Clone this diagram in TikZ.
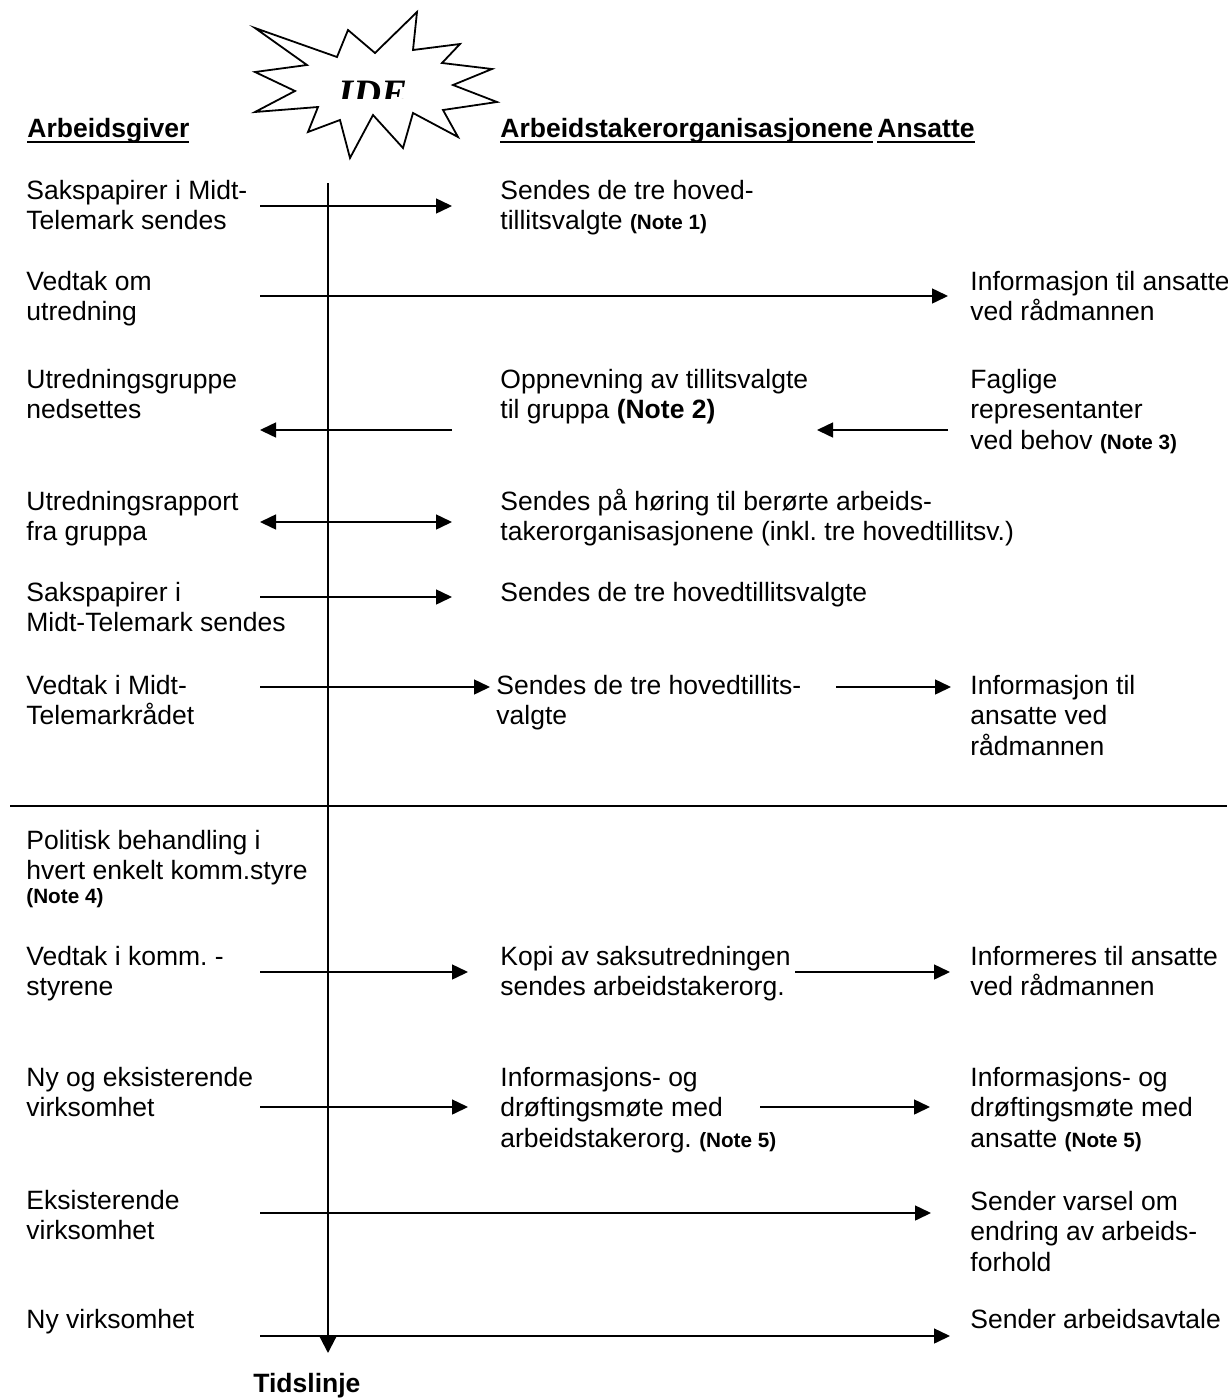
\documentclass[tikz,border=0pt]{standalone}
\usepackage{fontspec}
\setmainfont{Liberation Sans}
\newfontfamily\idefont{Liberation Serif}
\usetikzlibrary{arrows.meta}
\frenchspacing
\newcommand\txtlines[1]{\vtop{\halign{##\hfil\cr#1\crcr}}}
\newcommand\notetxt[1]{{\fontsize{10.35}{12}\selectfont\bfseries #1}}
\newcommand\myuline[1]{\setbox0\hbox{#1}\rlap{\rule[-3pt]{\wd0}{1pt}}\box0}
\begin{document}
\begin{tikzpicture}[x=0.5pt,y=-0.5pt,
  txt/.style={anchor=base west,inner sep=0pt,font=\fontsize{13.25}{15.25}\selectfont},
  hdr/.style={anchor=base west,inner sep=0pt,font=\fontsize{13.25}{15.25}\selectfont\bfseries},
  arr/.style={line width=0.75pt,-{Triangle[length=8pt,width=7.5pt]}},
  arrboth/.style={line width=0.75pt,{Triangle[length=8pt,width=7.5pt]}-{Triangle[length=8pt,width=7.5pt]}},
  plain/.style={line width=0.75pt},
  timeline/.style={line width=1pt,-{Triangle[length=8pt,width=8pt]}},
  starshape/.style={line width=0.9pt,fill=white,line join=miter}]
\fill[white] (0,0) rectangle (1227,1398);
\useasboundingbox (0,0) rectangle (1227,1398);

% star
\draw[starshape] (255,28) -- (337,57) -- (348,30) -- (375,53) -- (417,12) -- (413,50)
  -- (460,44) -- (442,63) -- (492,69) -- (453,85) -- (497,102) -- (443,110)
  -- (458,137) -- (413,113) -- (403,148) -- (373,115) -- (350,158) -- (340,120)
  -- (308,132) -- (318,107) -- (255,112) -- (295,91) -- (255,72) -- (307,65) -- cycle;
\begin{scope}
\clip (330,60) rectangle (420,98);
\node[anchor=base west,inner sep=0pt,font=\idefont\bfseries\itshape\fontsize{19.4}{22}\selectfont] (ide) at (338,106) {IDE};
\end{scope}

% headers
\node[hdr] (hag) at (27,137) {\myuline{Arbeidsgiver}};
\node[hdr] (hao) at (500,137) {\myuline{Arbeidstakerorganisasjonene}};
\node[hdr] (han) at (877,137) {\myuline{Ansatte}};

% timeline and separator
\coordinate (tl0) at (328,183);
\coordinate (tl1) at (328,1353);
\draw[timeline] (tl0) -- (tl1);
\coordinate (sepL) at (10,806);
\coordinate (sepR) at (1227,806);
\draw[plain] (sepL) -- (sepR);

% row 1
\node[txt] (l1) at (26,199) {\txtlines{Sakspapirer i Midt-\cr Telemark sendes}};
\node[txt] (m1) at (500,199) {\txtlines{Sendes de tre hoved-\cr tillitsvalgte \notetxt{(Note 1)}}};
\coordinate (a1s) at (260,206); \coordinate (a1e) at (452,206);
\draw[arr] (a1s) -- (a1e);

% row 2
\node[txt] (l2) at (26,290) {\txtlines{Vedtak om\cr utredning}};
\node[txt] (r2) at (970,290) {\txtlines{Informasjon til ansatte\cr ved rådmannen}};
\coordinate (a2s) at (260,296); \coordinate (a2e) at (948,296);
\draw[arr] (a2s) -- (a2e);

% row 3
\node[txt] (l3) at (26,388) {\txtlines{Utredningsgruppe\cr nedsettes}};
\node[txt] (m3) at (500,388) {\txtlines{Oppnevning av tillitsvalgte\cr til gruppa \textbf{(Note 2)}}};
\node[txt] (r3) at (970,388) {\txtlines{Faglige\cr representanter\cr ved behov \notetxt{(Note 3)}}};
\coordinate (a3s) at (452,430); \coordinate (a3e) at (260,430);
\draw[arr] (a3s) -- (a3e);
\coordinate (b3s) at (948,430); \coordinate (b3e) at (817,430);
\draw[arr] (b3s) -- (b3e);

% row 4
\node[txt] (l4) at (26,510) {\txtlines{Utredningsrapport\cr fra gruppa}};
\node[txt] (m4) at (500,510) {\txtlines{Sendes på høring til berørte arbeids-\cr takerorganisasjonene (inkl. tre hovedtillitsv.)}};
\coordinate (a4s) at (260,522); \coordinate (a4e) at (452,522);
\draw[arrboth] (a4s) -- (a4e);

% row 5
\node[txt] (l5) at (26,601) {\txtlines{Sakspapirer i\cr Midt-Telemark sendes}};
\node[txt] (m5) at (500,601) {\txtlines{Sendes de tre hovedtillitsvalgte}};
\coordinate (a5s) at (260,597); \coordinate (a5e) at (452,597);
\draw[arr] (a5s) -- (a5e);

% row 6
\node[txt] (l6) at (26,694) {\txtlines{Vedtak i Midt-\cr Telemarkrådet}};
\node[txt] (m6) at (496,694) {\txtlines{Sendes de tre hovedtillits-\cr valgte}};
\node[txt] (r6) at (970,694) {\txtlines{Informasjon til\cr ansatte ved\cr rådmannen}};
\coordinate (a6s) at (260,687); \coordinate (a6e) at (490,687);
\draw[arr] (a6s) -- (a6e);
\coordinate (b6s) at (836,687); \coordinate (b6e) at (951,687);
\draw[arr] (b6s) -- (b6e);

% row 7
\node[txt] (l7) at (26,849) {\txtlines{Politisk behandling i\cr hvert enkelt komm.styre\cr\noalign{\vskip-3.25pt}\notetxt{(Note 4)}}};

% row 8
\node[txt] (l8) at (26,965) {\txtlines{Vedtak i komm. -\cr styrene}};
\node[txt] (m8) at (500,965) {\txtlines{Kopi av saksutredningen\cr sendes arbeidstakerorg.}};
\node[txt] (r8) at (970,965) {\txtlines{Informeres til ansatte\cr ved rådmannen}};
\coordinate (a8s) at (260,972); \coordinate (a8e) at (468,972);
\draw[arr] (a8s) -- (a8e);
\coordinate (b8s) at (795,972); \coordinate (b8e) at (950,972);
\draw[arr] (b8s) -- (b8e);

% row 9
\node[txt] (l9) at (26,1086) {\txtlines{Ny og eksisterende\cr virksomhet}};
\node[txt] (m9) at (500,1086) {\txtlines{Informasjons- og\cr drøftingsmøte med\cr arbeidstakerorg. \notetxt{(Note 5)}}};
\node[txt] (r9) at (970,1086) {\txtlines{Informasjons- og\cr drøftingsmøte med\cr ansatte \notetxt{(Note 5)}}};
\coordinate (a9s) at (260,1107); \coordinate (a9e) at (468,1107);
\draw[arr] (a9s) -- (a9e);
\coordinate (b9s) at (760,1107); \coordinate (b9e) at (930,1107);
\draw[arr] (b9s) -- (b9e);

% row 10
\node[txt] (l10) at (26,1209) {\txtlines{Eksisterende\cr virksomhet}};
\node[txt] (r10) at (970,1210) {\txtlines{Sender varsel om\cr endring av arbeids-\cr forhold}};
\coordinate (a10s) at (260,1213); \coordinate (a10e) at (931,1213);
\draw[arr] (a10s) -- (a10e);

% row 11
\node[txt] (l11) at (26,1328) {Ny virksomhet};
\node[txt] (r11) at (970,1328) {Sender arbeidsavtale};
\coordinate (a11s) at (260,1336); \coordinate (a11e) at (950,1336);
\draw[arr] (a11s) -- (a11e);

% time label
\node[hdr] (tid) at (253,1392) {Tidslinje};
\end{tikzpicture}
\end{document}
